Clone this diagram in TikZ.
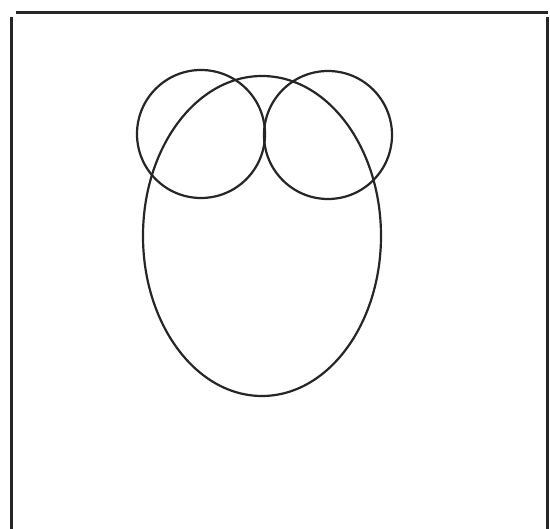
\documentclass[tikz,border=0pt]{standalone}
\begin{document}
\begin{tikzpicture}[x=1pt,y=-1pt,line width=2.2pt,
  outline/.style={draw=black!85,line width=2.2pt},
  frame/.style={draw=black!85,line width=3pt}]
\useasboundingbox (0,0) rectangle (550,529);
\draw[frame] (16,13) -- (548,13);
\draw[frame] (11,17) -- (11,529);
\draw[frame] (547,17) -- (547,529);
\path[outline] (262,236) ellipse [x radius=119, y radius=160];
\path[outline] (201,134) circle [radius=64];
\path[outline] (328,135) circle [radius=64];
\end{tikzpicture}
\end{document}
